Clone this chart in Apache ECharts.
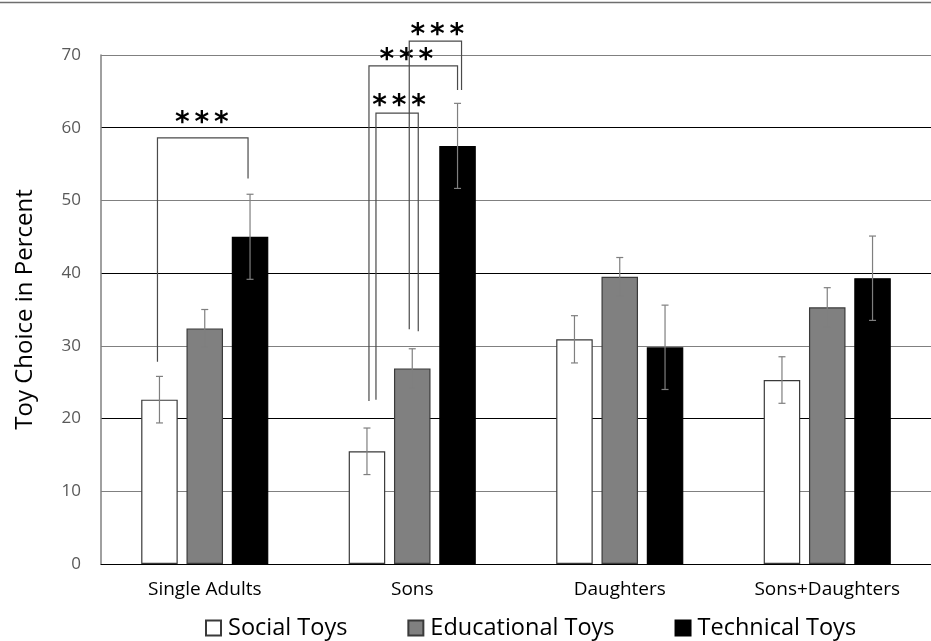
<!DOCTYPE html>
<html>
<head>
<meta charset="utf-8">
<script src="https://cdn.jsdelivr.net/npm/echarts@6/dist/echarts.min.js"></script>
<style>
html,body{margin:0;padding:0;background:#fff;}
#chart{width:931px;height:641px;}
</style>
</head>
<body>
<div id="chart"></div>
<script>
// ---- data ----
const categories = ['Single Adults', 'Sons', 'Daughters', 'Sons+Daughters'];
const seriesNames = ['Social Toys', 'Educational Toys', 'Technical Toys'];
const socialToys = [22.6, 15.5, 30.9, 25.3];
const educationalToys = [32.4, 26.9, 39.5, 35.3];
const technicalToys = [45.0, 57.5, 29.8, 39.3];
const socialErr = [3.2, 3.2, 3.25, 3.2];
const educationalErr = [2.6, 2.7, 2.65, 2.7];
const technicalErr = [5.85, 5.85, 5.8, 5.8];
const yTicks = [0, 10, 20, 30, 40, 50, 60, 70];

// significance brackets: category, bar pair, top level, leg ends (values), label
const bracketCat = [0, 1, 1, 1];
const bracketFrom = [0, 0, 0, 1];
const bracketTo = [2, 1, 2, 2];
const bracketTop = [58.6, 62.0, 68.5, 71.9];
const bracketLeftEnd = [27.8, 22.6, 22.4, 32.3];
const bracketRightEnd = [53.0, 32.0, 65.2, 65.2];
const bracketLabelLevel = [60.5, 62.9, 69.2, 72.6];
const bracketLabel = ['***', '***', '***', '***'];

// ---- layout constants (pixels) ----
const BAR_FRAC = 0.176;
const GAP_FRAC = 0.24;
const legNudgeL = [-2, 9, 2, -3];
const legNudgeR = [-2, 6, 0, 4];
const labelNudge = [-1, 2, -7, 2];
const STAR_STEP = 19.5;

const values = [socialToys, educationalToys, technicalToys];
const errs = [socialErr, educationalErr, technicalErr];
const fills = ['#ffffff', '#808080', '#000000'];
const borders = ['#3a3a3a', '#3a3a3a', '#000000'];
const FONT = 'Open Sans';

function barOffset(api, idx) {
  const band = api.size([1, 0])[0];
  const w = band * BAR_FRAC;
  return (idx - 1) * w * (1 + GAP_FRAC);
}

const barSeries = seriesNames.map((name, i) => ({
  name: name,
  type: 'bar',
  barWidth: (BAR_FRAC * 100) + '%',
  barGap: (GAP_FRAC * 100) + '%',
  data: values[i],
  itemStyle: { color: fills[i], borderColor: borders[i], borderWidth: 1.2 },
  emphasis: { disabled: true },
  z: 2
}));

const errSeries = seriesNames.map((name, i) => ({
  type: 'custom',
  name: name + ' err',
  data: values[i].map((v, k) => [k, v, errs[i][k]]),
  z: 5,
  renderItem: function (params, api) {
    const c = api.coord([api.value(0), api.value(1)]);
    const x = c[0] + barOffset(api, i);
    const hi = api.coord([api.value(0), api.value(1) + api.value(2)])[1];
    const lo = api.coord([api.value(0), api.value(1) - api.value(2)])[1];
    const cap = 3.5;
    const st = { stroke: '#7f7f7f', lineWidth: 1.2 };
    return {
      type: 'group',
      children: [
        { type: 'line', shape: { x1: x, y1: hi, x2: x, y2: lo }, style: st },
        { type: 'line', shape: { x1: x - cap, y1: hi, x2: x + cap, y2: hi }, style: st },
        { type: 'line', shape: { x1: x - cap, y1: lo, x2: x + cap, y2: lo }, style: st }
      ]
    };
  }
}));

const bracketSeries = {
  type: 'custom',
  name: 'brackets',
  clip: false,
  z: 6,
  data: bracketCat.map((c, i) => [c, bracketTop[i], i]),
  renderItem: function (params, api) {
    const i = api.value(2);
    const cat = api.value(0);
    const cx = api.coord([cat, 0])[0];
    const xL = cx + barOffset(api, bracketFrom[i]) + legNudgeL[i];
    const xR = cx + barOffset(api, bracketTo[i]) + legNudgeR[i];
    const yT = api.coord([cat, bracketTop[i]])[1];
    const yL = api.coord([cat, bracketLeftEnd[i]])[1];
    const yR = api.coord([cat, bracketRightEnd[i]])[1];
    const yLab = api.coord([cat, bracketLabelLevel[i]])[1];
    const mid = (xL + xR) / 2 + labelNudge[i];
    const chars = bracketLabel[i].split('');
    const children = [
      { type: 'polyline', shape: { points: [[xL, yL], [xL, yT], [xR, yT], [xR, yR]] },
        style: { stroke: '#4a4a4a', lineWidth: 1.2, fill: null } }
    ];
    chars.forEach((ch, k) => {
      children.push({
        type: 'text',
        x: mid + (k - (chars.length - 1) / 2) * STAR_STEP,
        y: yLab,
        style: { text: ch, fill: '#000', font: 'bold 28px "DejaVu Sans"',
                 align: 'center', verticalAlign: 'middle' }
      });
    });
    return { type: 'group', children: children };
  }
};

const chart = echarts.init(document.getElementById('chart'), null, { renderer: 'canvas' });
chart.setOption({
  animation: false,
  backgroundColor: '#fff',
  grid: { left: 101, right: -10, top: 55, bottom: 77, containLabel: false },
  legend: {
    data: seriesNames,
    left: 205,
    top: 616,
    padding: 0,
    itemWidth: 15,
    itemHeight: 15,
    itemGap: 60,
    icon: 'rect',
    textStyle: { fontFamily: FONT, fontSize: 23.5, color: '#000', padding: [0, 0, 0, 2] },
    selectedMode: false
  },
  xAxis: {
    type: 'category',
    data: categories,
    axisLine: { show: true, lineStyle: { color: '#000', width: 1 } },
    axisTick: { show: false },
    axisLabel: { fontFamily: FONT, fontSize: 19, color: '#000', margin: 16 },
    splitLine: { show: false }
  },
  yAxis: {
    type: 'value',
    min: 0,
    max: 70,
    interval: 10,
    name: 'Toy Choice in Percent',
    nameLocation: 'middle',
    nameRotate: 90,
    nameGap: 64,
    nameTextStyle: { fontFamily: FONT, fontSize: 24, color: '#000' },
    axisLine: { show: true, lineStyle: { color: '#808080', width: 1.5 } },
    axisTick: { show: false },
    axisLabel: { fontFamily: FONT, fontSize: 17, color: '#595959', margin: 20,
                 formatter: v => yTicks.includes(v) ? String(v) : '' },
    splitLine: { show: true, lineStyle: { color: ['#000000', '#808080'], width: 1.2 } }
  },
  graphic: [
    { type: 'line', shape: { x1: 0, y1: 2.5, x2: 931, y2: 2.5 },
      style: { stroke: '#6e6e6e', lineWidth: 1.5 }, silent: true }
  ],
  series: [...barSeries, ...errSeries, bracketSeries]
});
</script>
</body>
</html>
